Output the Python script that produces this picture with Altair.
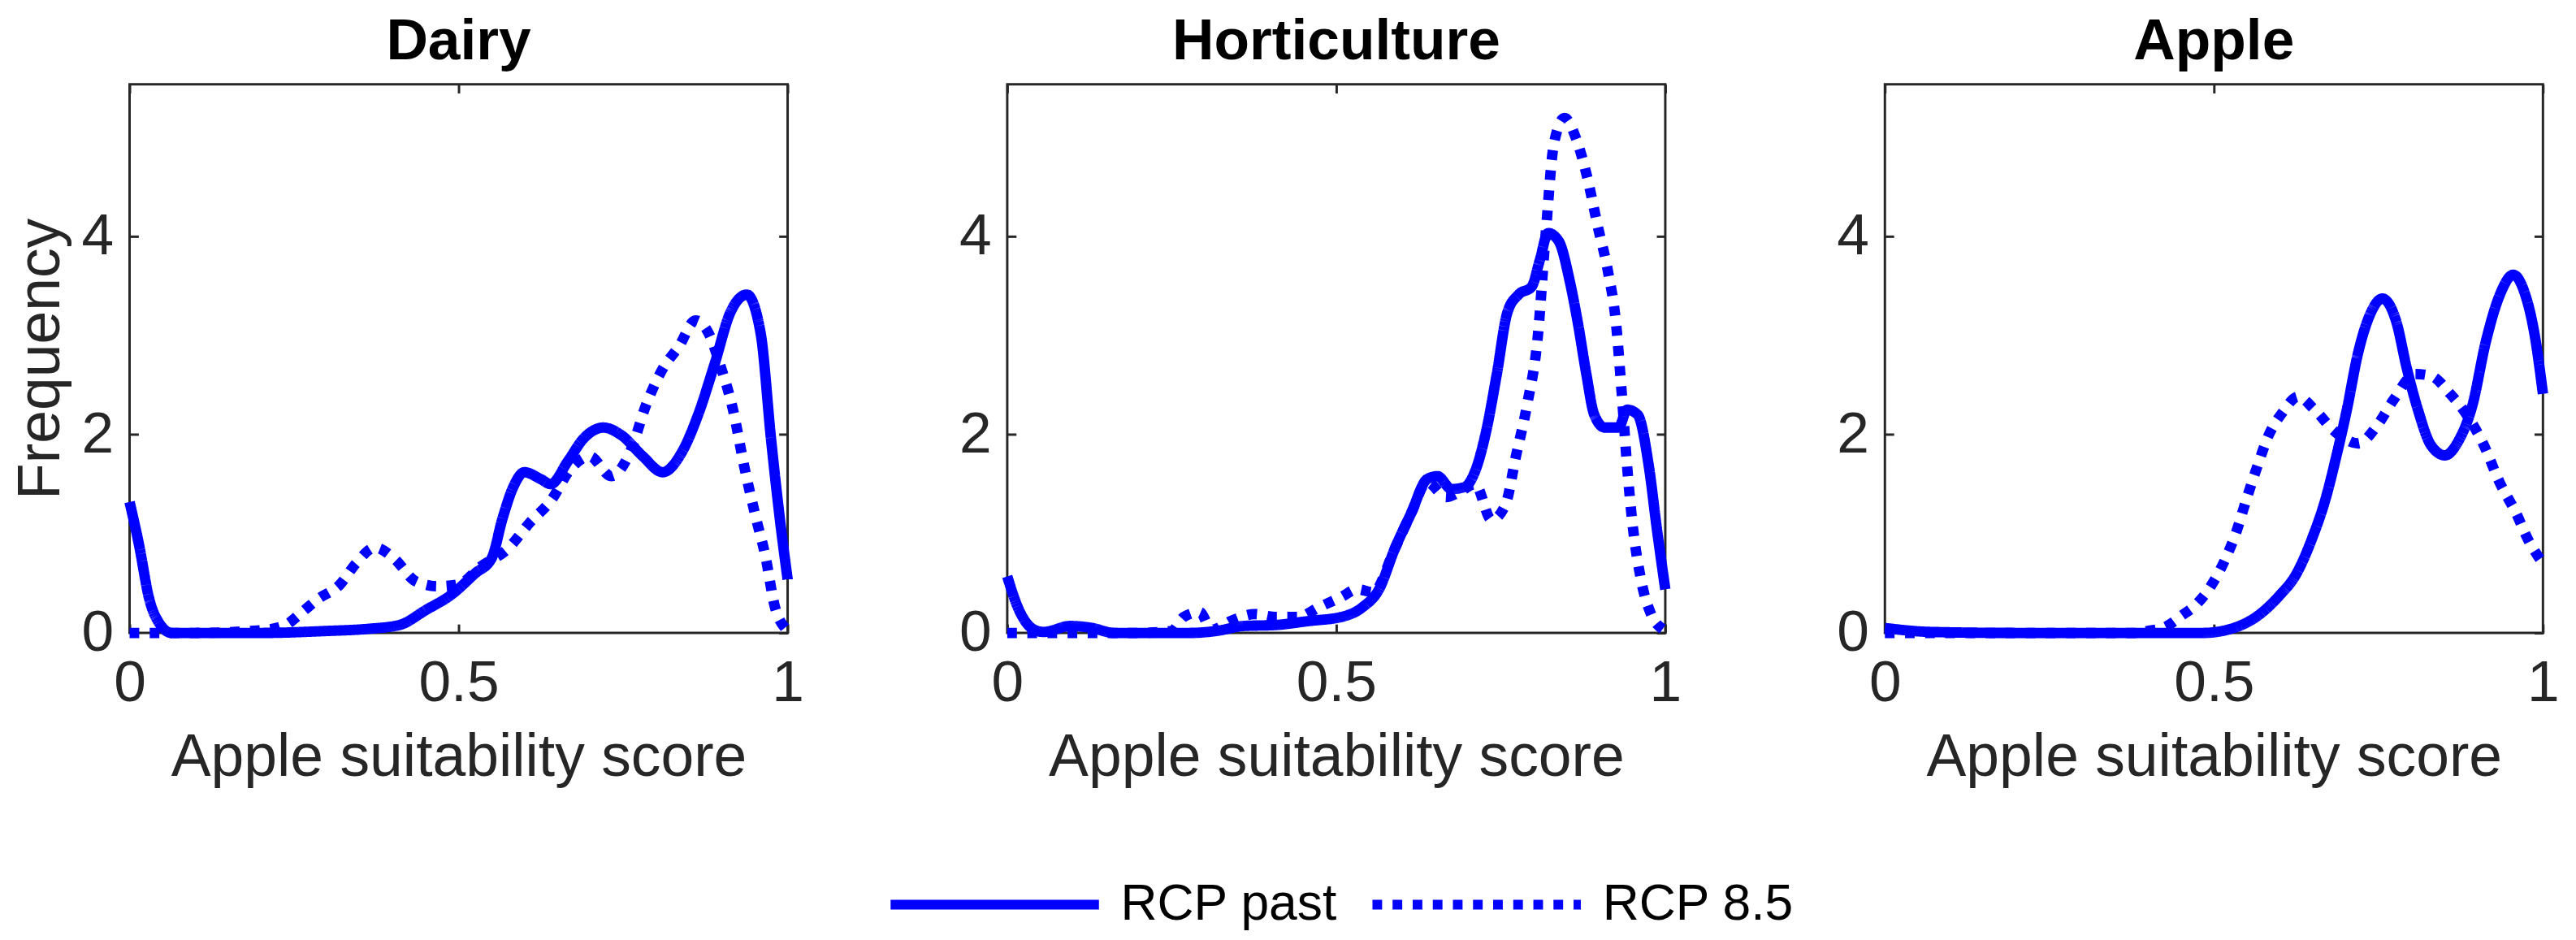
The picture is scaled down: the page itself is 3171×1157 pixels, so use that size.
import altair as alt
import pandas as pd

panel_names = ["Dairy", "Horticulture", "Apple"]
series_names = ["RCP past", "RCP 8.5"]
x_ticks = [0, 0.5, 1]
y_ticks = [0, 2, 4]

# Dairy
dairy_past_x = [0, 0.014, 0.03, 0.047, 0.064, 0.1, 0.2, 0.3, 0.36, 0.41, 0.45, 0.49, 0.525, 0.55, 0.567, 0.583, 0.6, 0.625, 0.64, 0.666, 0.69, 0.72, 0.748, 0.78, 0.81, 0.84, 0.864, 0.889, 0.913, 0.938, 0.959, 0.975, 0.988, 1.0]
dairy_past_y = [1.32, 0.9, 0.34, 0.08, 0.0, 0.0, 0.0, 0.02, 0.04, 0.08, 0.23, 0.39, 0.6, 0.75, 1.16, 1.47, 1.62, 1.55, 1.5, 1.73, 1.96, 2.07, 1.99, 1.78, 1.62, 1.83, 2.2, 2.71, 3.23, 3.41, 3.02, 1.94, 1.16, 0.54]
dairy_85_x = [0, 0.1, 0.204, 0.237, 0.262, 0.286, 0.32, 0.344, 0.373, 0.402, 0.435, 0.468, 0.5, 0.534, 0.575, 0.608, 0.641, 0.67, 0.699, 0.732, 0.761, 0.785, 0.81, 0.835, 0.86, 0.88, 0.897, 0.917, 0.934, 0.95, 0.967, 0.98, 0.996]
dairy_85_y = [0.0, 0.0, 0.03, 0.08, 0.21, 0.34, 0.49, 0.7, 0.86, 0.75, 0.52, 0.47, 0.49, 0.67, 0.85, 1.11, 1.34, 1.65, 1.78, 1.58, 1.83, 2.3, 2.66, 2.89, 3.15, 3.02, 2.71, 2.25, 1.68, 1.21, 0.75, 0.28, 0.05]

# Horticulture
hort_past_x = [0, 0.018, 0.039, 0.055, 0.096, 0.129, 0.162, 0.277, 0.318, 0.359, 0.408, 0.458, 0.507, 0.54, 0.565, 0.589, 0.614, 0.638, 0.654, 0.675, 0.695, 0.711, 0.728, 0.744, 0.76, 0.777, 0.797, 0.809, 0.822, 0.838, 0.855, 0.867, 0.88, 0.892, 0.908, 0.929, 0.942, 0.958, 0.975, 0.987, 1.0]
hort_past_y = [0.57, 0.23, 0.04, 0.01, 0.07, 0.05, 0.0, 0.0, 0.02, 0.07, 0.08, 0.12, 0.16, 0.26, 0.44, 0.85, 1.21, 1.55, 1.58, 1.45, 1.47, 1.63, 2.04, 2.61, 3.23, 3.41, 3.49, 3.75, 4.03, 3.95, 3.54, 3.13, 2.61, 2.2, 2.07, 2.07, 2.25, 2.2, 1.68, 1.06, 0.44]
hort_85_x = [0, 0.1, 0.2, 0.25, 0.268, 0.293, 0.31, 0.343, 0.376, 0.408, 0.441, 0.474, 0.507, 0.532, 0.556, 0.589, 0.614, 0.638, 0.667, 0.687, 0.711, 0.736, 0.757, 0.773, 0.79, 0.806, 0.818, 0.831, 0.847, 0.864, 0.88, 0.897, 0.913, 0.925, 0.934, 0.942, 0.95, 0.963, 0.979, 0.996]
hort_85_y = [0.0, 0.0, 0.0, 0.02, 0.16, 0.21, 0.03, 0.13, 0.19, 0.16, 0.16, 0.26, 0.36, 0.44, 0.41, 0.85, 1.21, 1.52, 1.37, 1.42, 1.5, 1.14, 1.29, 1.78, 2.3, 2.97, 4.0, 4.94, 5.19, 4.99, 4.63, 4.11, 3.64, 3.13, 2.4, 1.68, 1.11, 0.54, 0.18, 0.04]

# Apple
apple_past_x = [0, 0.07, 0.2, 0.483, 0.525, 0.566, 0.6, 0.624, 0.649, 0.67, 0.686, 0.702, 0.719, 0.736, 0.756, 0.777, 0.793, 0.81, 0.83, 0.851, 0.872, 0.893, 0.913, 0.934, 0.955, 0.971, 0.988, 1.0]
apple_past_y = [0.05, 0.01, 0.0, 0.0, 0.04, 0.17, 0.38, 0.58, 0.95, 1.36, 1.78, 2.25, 2.82, 3.19, 3.37, 3.14, 2.67, 2.25, 1.89, 1.79, 1.94, 2.3, 2.93, 3.4, 3.61, 3.45, 2.98, 2.41]
apple_85_x = [0, 0.2, 0.384, 0.4, 0.426, 0.45, 0.475, 0.496, 0.517, 0.533, 0.55, 0.566, 0.583, 0.604, 0.628, 0.653, 0.682, 0.698, 0.719, 0.748, 0.773, 0.806, 0.83, 0.859, 0.884, 0.909, 0.934, 0.959, 0.979, 0.996]
apple_85_y = [0.0, 0.0, 0.0, 0.02, 0.06, 0.17, 0.3, 0.48, 0.74, 1.0, 1.36, 1.68, 1.99, 2.22, 2.38, 2.25, 2.04, 1.96, 1.91, 2.09, 2.35, 2.61, 2.59, 2.41, 2.2, 1.91, 1.52, 1.21, 0.92, 0.74]

panel_data = [
    (dairy_past_x, dairy_past_y, dairy_85_x, dairy_85_y),
    (hort_past_x, hort_past_y, hort_85_x, hort_85_y),
    (apple_past_x, apple_past_y, apple_85_x, apple_85_y),
]

BLUE = "#0000ff"
AX = "#262626"
FONT = "Liberation Sans"
TICK_FS = 72
LABEL_FS = 74
W, H = 818, 682
TICK_LEN = 11

x_scale = alt.Scale(domain=[0, 1], nice=False, zero=False)
y_scale = alt.Scale(domain=[0, 5.53], nice=False, zero=False)

legend = alt.Legend(
    orient="none", legendX=940, legendY=884, direction="horizontal", title=None,
    symbolType="stroke", symbolSize=67081, symbolStrokeWidth=12, symbolStrokeColor=BLUE,
    labelFontSize=63, labelColor="black", labelFont=FONT, labelOffset=21, columnPadding=19,
    labelLimit=800,
)


def make_panel(i):
    px, py, fx, fy = panel_data[i]
    rows = []
    for s, xs, ys in ((series_names[0], px, py), (series_names[1], fx, fy)):
        for k, (a, b) in enumerate(zip(xs, ys)):
            rows.append({"series": s, "x": a, "y": b, "order": k})
    df = pd.DataFrame(rows)

    y_axis_kwargs = dict(
        values=y_ticks, orient="left", offset=-TICK_LEN, tickSize=TICK_LEN, tickWidth=3,
        tickColor=AX, domain=False, grid=False, labelFontSize=TICK_FS, labelColor=AX,
        labelPadding=20, titleFontSize=LABEL_FS, titleColor=AX, titleFontWeight="normal",
        titlePadding=12,
    )
    y_axis_kwargs["title"] = "Frequency" if i == 0 else None

    base = alt.Chart(df)
    lines = base.mark_line(color=BLUE, strokeWidth=13, strokeCap="butt",
                           interpolate="monotone").encode(
        x=alt.X("x:Q", scale=x_scale, axis=alt.Axis(
            values=x_ticks, format="~g", orient="bottom", offset=-TICK_LEN,
            tickSize=TICK_LEN, tickWidth=3, tickColor=AX, domain=False, grid=False,
            labelFontSize=TICK_FS, labelColor=AX, labelPadding=27, labelFlush=False,
            title="Apple suitability score", titleFontSize=LABEL_FS, titleColor=AX,
            titleFontWeight="normal", titlePadding=21)),
        y=alt.Y("y:Q", scale=y_scale, axis=alt.Axis(**y_axis_kwargs)),
        strokeDash=alt.StrokeDash("series:N", scale=alt.Scale(
            domain=series_names, range=[[1, 0], [12, 13]]), legend=legend),
        order="order:Q",
    )
    frame = base.mark_line(opacity=0).encode(
        x=alt.X("x:Q", scale=x_scale, axis=alt.Axis(
            values=x_ticks, orient="top", offset=-TICK_LEN, tickSize=TICK_LEN, tickWidth=3,
            tickColor=AX, domain=False, grid=False, labels=False, title=None)),
        y=alt.Y("y:Q", scale=y_scale, axis=alt.Axis(
            values=y_ticks, orient="right", offset=-TICK_LEN, tickSize=TICK_LEN, tickWidth=3,
            tickColor=AX, domain=False, grid=False, labels=False, title=None)),
        detail="series:N",
    )
    return alt.layer(lines, frame).resolve_axis(x="independent", y="independent").properties(
        width=W, height=H,
        title=alt.TitleParams(panel_names[i], fontSize=72, fontWeight="bold", color="black",
                              font=FONT, anchor="middle", offset=15),
    )


chart = alt.hconcat(make_panel(0), make_panel(1), make_panel(2), spacing=183).properties(
    padding={"left": 4, "top": 0, "right": 5, "bottom": 5},
).configure(font=FONT).configure_view(stroke=AX, strokeWidth=3)

chart.save("out.html", embed_options={"renderer": "svg", "actions": False})
